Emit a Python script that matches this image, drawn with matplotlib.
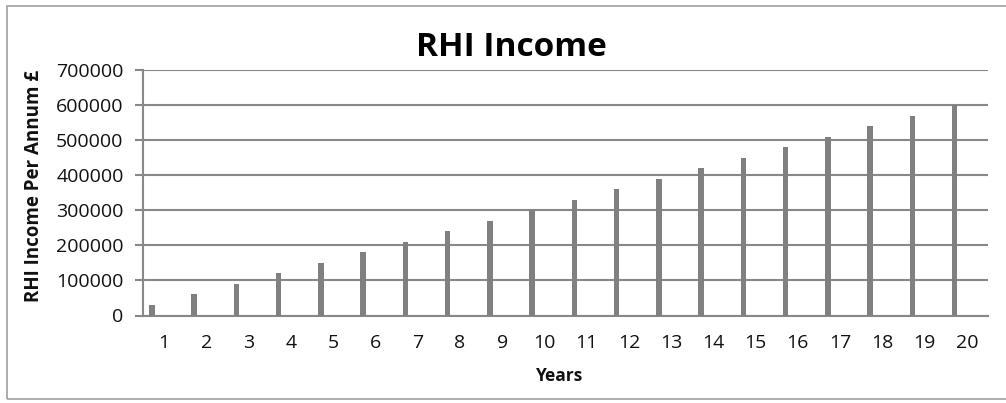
import matplotlib
matplotlib.use("Agg")
import matplotlib.pyplot as plt
from matplotlib.patches import Rectangle

years = [str(i) for i in range(1, 21)]
income = [30000, 60000, 90000, 120000, 150000, 180000, 210000, 240000, 270000, 300000,
          330000, 360000, 390000, 420000, 450000, 480000, 510000, 540000, 570000, 600000]
yticks = [0, 100000, 200000, 300000, 400000, 500000, 600000, 700000]

plt.rcParams['font.family'] = ['Open Sans', 'DejaVu Sans']

W, H = 1006, 403
fig = plt.figure(figsize=(W / 100, H / 100), dpi=100)
fig.patch.set_facecolor('white')

# outer chart border
fig.patches.append(Rectangle((7 / W, 1 - 399 / H), (1010 - 7) / W, (399 - 6) / H,
                             transform=fig.transFigure, fill=False,
                             edgecolor='#a0a0a0', linewidth=1.2))

ax = fig.add_axes([143 / W, 1 - 315.5 / H, (988 - 143) / W, (315.5 - 70) / H])
pos = list(range(1, 21))
ax.bar([p - 0.29 for p in pos], income, width=0.13, color='#808080', zorder=3)

ax.set_xlim(0.5, 20.5)
ax.set_ylim(0, 700000)
ax.set_yticks(yticks)
ax.set_yticklabels([str(v) for v in yticks], fontsize=14, color='#111111')
ax.set_xticks(pos)
ax.set_xticklabels(years, fontsize=14, color='#111111')
ax.tick_params(axis='x', length=0, pad=13)
ax.tick_params(axis='y', length=6, width=1.5, color='#888888', pad=8)
ax.grid(axis='y', color='#888888', linewidth=1.5, zorder=0)
for s in ['top', 'right']:
    ax.spines[s].set_visible(False)
ax.spines['left'].set_color('#888888')
ax.spines['left'].set_linewidth(1.5)
ax.spines['bottom'].set_color('#888888')
ax.spines['bottom'].set_linewidth(1.5)

fig.text(511 / W, 1 - 47 / H, 'RHI Income', ha='center', va='center',
         fontsize=24, fontweight='bold', color='#000000')
fig.text(560 / W, 1 - 376 / H, 'Years', ha='center', va='center',
         fontsize=12.5, fontweight='bold', color='#111111')
fig.text(34 / W, 1 - 186 / H, 'RHI Income Per Annum £', ha='center', va='center',
         rotation=90, fontsize=13.5, fontweight='bold', color='#111111')

fig.savefig('out.png', dpi=100, facecolor='white')
